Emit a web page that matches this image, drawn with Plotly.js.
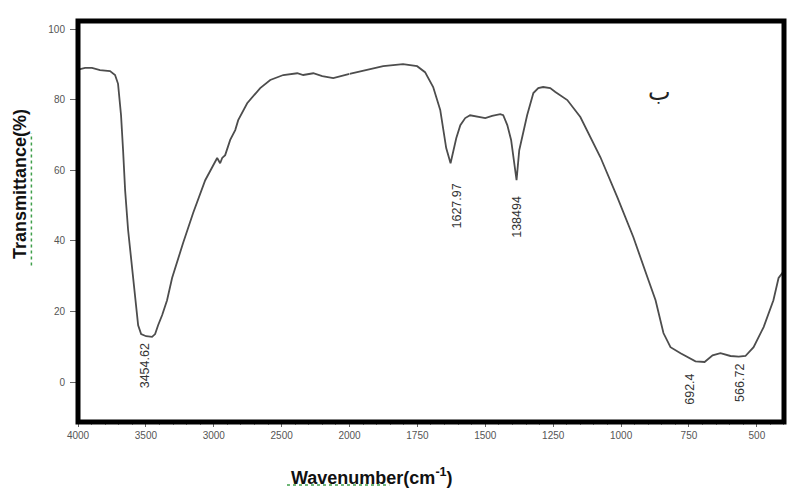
<!DOCTYPE html>
<html>
<head>
<meta charset="utf-8">
<script src="https://cdn.plot.ly/plotly-3.0.1.min.js"></script>
<style>
  html, body { margin: 0; padding: 0; background: #ffffff; }
  #chart { width: 792px; height: 490px; }
</style>
</head>
<body>
<div id="chart"></div>
<script>
// FT-IR spectrum, high-wavenumber segment (4000-2000 cm-1, compressed scale)
const waveHigh = [4000, 3985, 3948, 3897, 3838, 3764, 3727, 3705, 3683, 3668, 3653, 3631,
  3609, 3587, 3572, 3557, 3535, 3498, 3454.62, 3432, 3410, 3380, 3344, 3307, 3226, 3152,
  3063, 2975, 2953, 2938, 2916, 2879, 2842, 2820, 2754, 2658, 2584, 2488, 2385, 2341,
  2267, 2201, 2120, 2031, 2000];
const transHigh = [88.5, 88.7, 89.0, 89.0, 88.4, 88.1, 87.0, 84.5, 75.6, 65.7, 54.4, 43.1,
  34.6, 26.1, 20.4, 16.1, 13.6, 13.0, 12.8, 13.6, 16.1, 19.0, 23.2, 29.5, 39.4, 47.9,
  57.2, 63.5, 62.0, 63.5, 64.3, 68.6, 71.4, 74.2, 79.0, 83.3, 85.6, 87.0, 87.5, 87.0,
  87.5, 86.7, 86.1, 86.9, 87.3];

// Low-wavenumber segment (2000-400 cm-1, expanded scale)
const waveLow = [2000, 1972, 1924, 1876, 1803, 1751, 1722, 1692, 1666, 1655, 1644, 1627.97,
  1618, 1607, 1592, 1574, 1556, 1526, 1500, 1475, 1445, 1434, 1419, 1405, 1384.94, 1375,
  1364, 1346, 1323, 1305, 1287, 1261, 1242, 1198, 1150, 1076, 1014, 955, 903, 873, 844,
  818, 781, 756, 726, 692.4, 663, 634, 597, 566.72, 542, 512, 475, 439, 420, 400];
const transLow = [87.3, 87.8, 88.7, 89.5, 90.1, 89.5, 87.8, 83.6, 77.1, 71.4, 66.3, 62.0,
  65.7, 69.1, 72.8, 74.8, 75.6, 75.1, 74.8, 75.4, 75.9, 75.6, 72.8, 68.6, 57.2, 65.7,
  69.4, 75.6, 81.9, 83.3, 83.6, 83.3, 82.2, 79.9, 75.1, 63.7, 52.4, 41.1, 29.7, 23.2, 13.9,
  9.9, 8.2, 7.1, 5.9, 5.7, 7.6, 8.2, 7.4, 7.2, 7.4, 9.9, 15.6, 23.2, 29.5, 31.5];

// Axis ticks
const tickHigh = [4000, 3500, 3000, 2500, 2000];
const tickLow = [1750, 1500, 1250, 1000, 750, 500];
const tickY = [0, 20, 40, 60, 80, 100];

// Marked band positions
const peakWave = [3454.62, 1627.97, 1384.94, 692.4, 566.72];
const peakText = ['3454.62', '1627.97', '138494', '692.4', '566.72'];
const peakAxis = ['x', 'x2', 'x2', 'x2', 'x2'];

const splitAt = 4 / 10.4;
const lineStyle = { color: '#4d4d4d', width: 1.8 };
const tickFont = { family: 'Liberation Sans, Arial, sans-serif', size: 10, color: '#555' };

const traces = [
  { x: waveHigh, y: transHigh, xaxis: 'x', yaxis: 'y', mode: 'lines', line: lineStyle, hoverinfo: 'skip' },
  { x: waveLow, y: transLow, xaxis: 'x2', yaxis: 'y', mode: 'lines', line: lineStyle, hoverinfo: 'skip' }
];

// label placement around each band (data y, pixel shift)
const labelY = [4.5, 49.9, 46.7, -2.0, -0.3];
const labelShift = [-7, 6, 1, -14, 1];

const annotations = peakWave.map((w, i) => ({
  x: w, y: labelY[i], xref: peakAxis[i], yref: 'y',
  text: peakText[i], showarrow: false, textangle: -90,
  xanchor: 'center', yanchor: 'middle', xshift: labelShift[i],
  font: { family: 'Liberation Sans, Arial, sans-serif', size: 12.5, color: '#333' }
}));

annotations.push(
  { x: 0.8215, y: 0.823, xref: 'paper', yref: 'paper', text: 'ب', showarrow: false,
    xanchor: 'center', yanchor: 'middle', xshift: 2,
    font: { family: 'DejaVu Sans', size: 24, color: '#222' } },
  { x: -0.082, y: 0.5935, xref: 'paper', yref: 'paper', text: '<b>Transmittance(%)</b>',
    showarrow: false, textangle: -90, xanchor: 'center', yanchor: 'middle',
    font: { family: 'Liberation Sans, Arial, sans-serif', size: 18, color: '#111' } },
  { x: 0.4164, y: -0.1347, xref: 'paper', yref: 'paper', text: '<b>Wavenumber(cm<sup>-1</sup>)</b>',
    showarrow: false, xanchor: 'center', yanchor: 'middle',
    font: { family: 'Liberation Sans, Arial, sans-serif', size: 18, color: '#111' } }
);

const shapes = [
  // heavy frame round the plotting area
  { type: 'rect', xref: 'paper', yref: 'paper', x0: 0, x1: 1, y0: 0, y1: 1,
    line: { color: '#000', width: 5 }, layer: 'above' },
  // proofing underlines beneath the axis words
  { type: 'line', xref: 'paper', yref: 'paper', x0: 0.296, x1: 0.441, y0: -0.157, y1: -0.157,
    line: { color: '#3f9f4a', width: 1.5, dash: 'dot' } },
  { type: 'line', xref: 'paper', yref: 'paper', x0: -0.066, x1: -0.066, y0: 0.39, y1: 0.72,
    line: { color: '#3f9f4a', width: 1.5, dash: 'dot' } }
];

const layout = {
  width: 792, height: 490,
  margin: { l: 78, r: 8, t: 21, b: 68 },
  paper_bgcolor: '#ffffff', plot_bgcolor: '#ffffff',
  showlegend: false,
  xaxis: {
    domain: [0, splitAt], anchor: 'y', range: [4000, 2000],
    tickvals: tickHigh, ticks: 'outside', ticklen: 4, tickcolor: '#666', tickwidth: 1,
    tickfont: tickFont, showgrid: false, zeroline: false, showline: false,
    minor: { dtick: 100, ticks: 'outside', ticklen: 2, tickcolor: '#888', showgrid: false }
  },
  xaxis2: {
    domain: [splitAt, 1], anchor: 'y', range: [2000, 400],
    tickvals: tickLow, ticks: 'outside', ticklen: 4, tickcolor: '#666', tickwidth: 1,
    tickfont: tickFont, showgrid: false, zeroline: false, showline: false,
    minor: { dtick: 50, ticks: 'outside', ticklen: 2, tickcolor: '#888', showgrid: false }
  },
  yaxis: {
    anchor: 'x', range: [-11.3, 102.3], tickvals: tickY,
    ticks: 'outside', ticklen: 7, tickcolor: '#666', tickwidth: 1,
    tickfont: tickFont, ticklabelstandoff: 3,
    showgrid: false, zeroline: false, showline: false
  },
  annotations: annotations,
  shapes: shapes
};

Plotly.newPlot('chart', traces, layout, { staticPlot: true, displayModeBar: false });
</script>
</body>
</html>
